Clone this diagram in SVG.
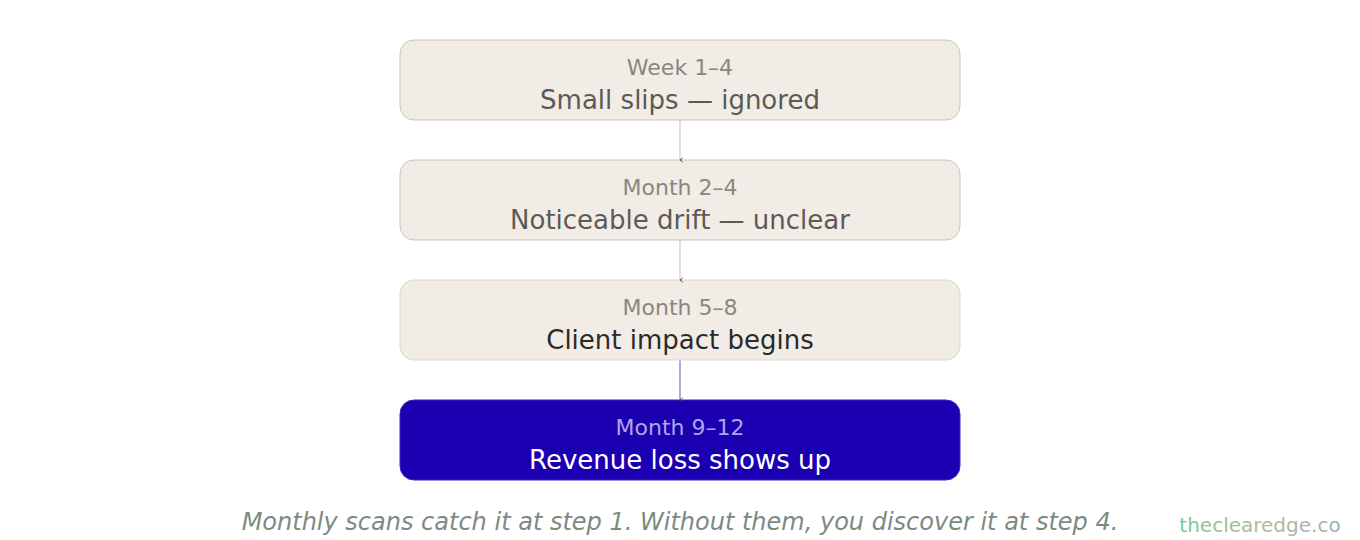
<svg xmlns="http://www.w3.org/2000/svg" width="1360" height="540" viewBox="0 0 1360 540">
<style>
.box{fill:#f1ede6;stroke:#c9c3b9;stroke-width:1}
.lbl{font-family:"DejaVu Sans",sans-serif;font-size:22px;text-anchor:middle;fill:#8a867f}
.main{font-family:"DejaVu Sans",sans-serif;font-size:26px;text-anchor:middle;fill:#5c5a56}
.conn{stroke:#cdc9c2;stroke-width:1.2;fill:none;marker-end:url(#arr)}
</style>
<defs>
<marker id="arr" viewBox="0 0 10 10" refX="5" refY="8" markerWidth="6" markerHeight="6" orient="auto-start-reverse" markerUnits="userSpaceOnUse">
<path d="M1.5,3.5 L5,8 L8.5,3.5" fill="none" stroke="#444" stroke-width="1.6"/>
</marker>
<linearGradient id="wm" x1="0" y1="0" x2="1" y2="0">
<stop offset="0" stop-color="#74c89c"/>
<stop offset="0.5" stop-color="#b8b89a"/>
<stop offset="1" stop-color="#9cb4b0"/>
</linearGradient>
</defs>
<rect width="1360" height="540" fill="#ffffff"/>
<g id="n1">
<rect class="box" x="400" y="40" width="560" height="80" rx="14"/>
<text class="lbl" x="680" y="75">Week 1–4</text>
<text class="main" x="680" y="109">Small slips — ignored</text>
</g>
<g id="n2">
<rect class="box" x="400" y="160" width="560" height="80" rx="14"/>
<text class="lbl" x="680" y="195">Month 2–4</text>
<text class="main" x="680" y="229">Noticeable drift — unclear</text>
</g>
<g id="n3">
<rect class="box" x="400" y="280" width="560" height="80" rx="14" style="stroke:#dcd7ce"/>
<text class="lbl" x="680" y="315">Month 5–8</text>
<text class="main" x="680" y="349" style="fill:#2b2a28">Client impact begins</text>
</g>
<g id="n4">
<rect class="box" x="400" y="400" width="560" height="80" rx="14" style="fill:#1a00b0;stroke:#3a24c0"/>
<text class="lbl" x="680" y="435" style="fill:#aea6e6">Month 9–12</text>
<text class="main" x="680" y="469" style="fill:#ffffff">Revenue loss shows up</text>
</g>
<g id="connectors">
<line class="conn" x1="680" y1="120.5" x2="680" y2="160"/>
<line class="conn" x1="680" y1="240.5" x2="680" y2="280"/>
<line class="conn" x1="680" y1="360.5" x2="680" y2="400" style="stroke:#7b6fd2"/>
</g>
<text x="680" y="530" font-family="DejaVu Sans, sans-serif" font-size="24" font-style="italic" text-anchor="middle" fill="#7d8a7f">Monthly scans catch it at step 1. Without them, you discover it at step 4.</text>
<text x="1260" y="532" font-family="DejaVu Sans, sans-serif" font-size="20" text-anchor="middle" fill="url(#wm)">theclearedge.co</text>
</svg>
